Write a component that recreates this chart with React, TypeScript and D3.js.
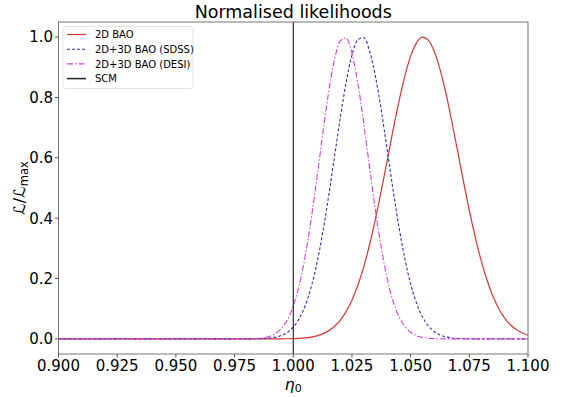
import * as d3 from 'd3';

// eta grid (shared by all series)
const eta = [
  0.9, 0.95, 0.975, 0.9775, 0.98, 0.9825, 0.985, 0.9875, 0.99, 0.9925, 0.995, 0.9975,
  1.0, 1.0025, 1.005, 1.0075, 1.01, 1.0125, 1.015, 1.0175, 1.02, 1.0225, 1.025, 1.0275,
  1.03, 1.0325, 1.035, 1.0375, 1.04, 1.0425, 1.045, 1.0475, 1.05, 1.0525, 1.055, 1.0575,
  1.06, 1.0625, 1.065, 1.0675, 1.07, 1.0725, 1.075, 1.0775, 1.08, 1.0825, 1.085, 1.0875,
  1.09, 1.0925, 1.095, 1.0975, 1.1,
];

const bao2d = [
  0, 0, 0, 0, 0, 0, 0, 0, 0.0001, 0.0002, 0.0003, 0.0006,
  0.0011, 0.002, 0.0035, 0.0061, 0.0103, 0.0167, 0.0266, 0.0411, 0.0617, 0.0903, 0.128, 0.177,
  0.238, 0.312, 0.397, 0.491, 0.59, 0.691, 0.786, 0.87, 0.937, 0.981, 1.0, 0.99,
  0.954, 0.894, 0.815, 0.722, 0.623, 0.522, 0.426, 0.338, 0.261, 0.196, 0.143, 0.101,
  0.07, 0.047, 0.031, 0.0195, 0.012,
];

const sdss = [
  0, 0, 0, 0, 0.0001, 0.0002, 0.0006, 0.0013, 0.0028, 0.0058, 0.0115, 0.0217,
  0.0389, 0.0664, 0.108, 0.168, 0.248, 0.35, 0.469, 0.6, 0.731, 0.849, 0.94, 0.991,
  0.998, 0.954, 0.87, 0.757, 0.627, 0.495, 0.372, 0.267, 0.182, 0.119, 0.0735, 0.0434,
  0.0245, 0.0131, 0.0067, 0.0033, 0.0015, 0.0007, 0.0003, 0, 0, 0, 0, 0,
  0, 0, 0, 0, 0,
];

const desi = [
  0, 0, 0, 0.0001, 0.0003, 0.0007, 0.0017, 0.004, 0.0088, 0.0181, 0.035, 0.0637,
  0.11, 0.177, 0.271, 0.39, 0.528, 0.676, 0.814, 0.923, 0.988, 0.997, 0.947, 0.848,
  0.716, 0.57, 0.427, 0.302, 0.201, 0.126, 0.0746, 0.0416, 0.0219, 0.0108, 0.0051, 0.0022,
  0.0009, 0.0004, 0.0001, 0, 0, 0, 0, 0, 0, 0, 0, 0,
  0, 0, 0, 0, 0,
];

const scmEta = 1.0;

const xTicks = [0.9, 0.925, 0.95, 0.975, 1.0, 1.025, 1.05, 1.075, 1.1];
const yTicks = [0, 0.2, 0.4, 0.6, 0.8, 1.0];

const series = [
  { name: '2D BAO', values: bao2d, color: '#d93535', dash: '', width: 1.2 },
  { name: '2D+3D BAO (SDSS)', values: sdss, color: '#2f2fc0', dash: '3,2', width: 1.1 },
  { name: '2D+3D BAO (DESI)', values: desi, color: '#d63fd6', dash: '6,2,1.5,2', width: 1.1 },
];

const W = 562;
const H = 397;
const m = { left: 58.5, right: 528, top: 22, bottom: 354 };

export default function App() {
  const x = d3.scaleLinear().domain([0.9, 1.1]).range([m.left, m.right]);
  const y = d3.scaleLinear().domain([-0.05, 1.05]).range([m.bottom, m.top]);

  const line = (vals: number[]) =>
    d3
      .line<number>()
      .x((_, i) => x(eta[i]))
      .y((d) => y(d))
      .curve(d3.curveMonotoneX)(vals) || '';

  const font = 'DejaVu Sans, sans-serif';

  return (
    <svg
      width={W}
      height={H}
      style={{ position: 'absolute', left: 0, top: 0, background: '#fff' }}
      fontFamily={font}
    >
      <defs>
        <clipPath id="plot">
          <rect x={m.left} y={m.top} width={m.right - m.left} height={m.bottom - m.top} />
        </clipPath>
      </defs>

      <text x={(m.left + m.right) / 2} y={18} textAnchor="middle" fontSize={17.5} fill="#000">
        Normalised likelihoods
      </text>

      <g clipPath="url(#plot)">
        {series.map((s) => (
          <path
            key={s.name}
            d={line(s.values)}
            fill="none"
            stroke={s.color}
            strokeWidth={s.width}
            strokeDasharray={s.dash || undefined}
          />
        ))}
        <line x1={x(scmEta)} x2={x(scmEta)} y1={m.top} y2={m.bottom} stroke="#000" strokeWidth={1} />
      </g>

      {/* axes frame */}
      <rect
        x={m.left}
        y={m.top}
        width={m.right - m.left}
        height={m.bottom - m.top}
        fill="none"
        stroke="#777"
        strokeWidth={1}
      />

      {xTicks.map((t) => (
        <g key={'x' + t}>
          <line x1={x(t)} x2={x(t)} y1={m.bottom} y2={m.bottom + 3.5} stroke="#555" />
          <text x={x(t)} y={370.5} textAnchor="middle" fontSize={15} fill="#000">
            {t.toFixed(3)}
          </text>
        </g>
      ))}
      {yTicks.map((t) => (
        <g key={'y' + t}>
          <line x1={m.left - 3.5} x2={m.left} y1={y(t)} y2={y(t)} stroke="#555" />
          <text x={m.left - 5.5} y={y(t) + 5.4} textAnchor="end" fontSize={15} fill="#000">
            {t.toFixed(1)}
          </text>
        </g>
      ))}

      <text x={(m.left + m.right) / 2} y={389.5} textAnchor="middle" fontSize={15.5} fill="#000">
        <tspan fontStyle="italic">η</tspan>
        <tspan fontSize={11} dy={2.5}>0</tspan>
      </text>

      <text
        transform={`translate(25,${(m.top + m.bottom) / 2}) rotate(-90)`}
        textAnchor="middle"
        fontSize={16}
        fill="#000"
      >
        <tspan fontStyle="italic">ℒ</tspan>
        <tspan>/</tspan>
        <tspan fontStyle="italic">ℒ</tspan>
        <tspan fontSize={11.5} dy={3}>max</tspan>
      </text>

      {/* legend */}
      <g>
        <rect x={63} y={26.5} width={130} height={62} rx={2} fill="#fff" stroke="#ddd" strokeWidth={0.8} />
        {[...series, { name: 'SCM', color: '#222', dash: '', width: 1.5 }].map((s, i) => {
          const yy = 34.5 + i * 14.7;
          return (
            <g key={'lg' + s.name}>
              <line
                x1={67}
                x2={86}
                y1={yy}
                y2={yy}
                stroke={s.color}
                strokeWidth={s.width}
                strokeDasharray={s.dash || undefined}
              />
              <text x={95} y={yy + 3.6} fontSize={10} fill="#000">
                {s.name}
              </text>
            </g>
          );
        })}
      </g>
    </svg>
  );
}
